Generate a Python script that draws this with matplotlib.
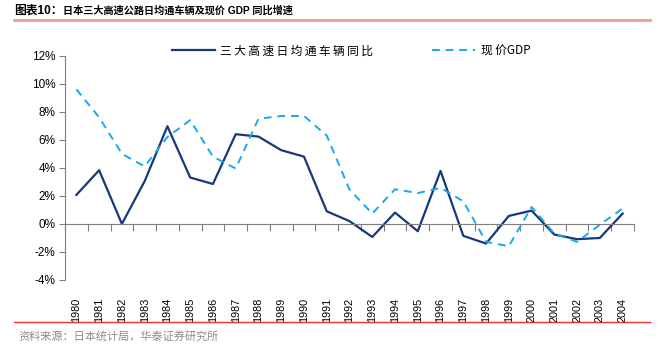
import matplotlib
matplotlib.use('Agg')
import matplotlib.pyplot as plt
import matplotlib.transforms as mtrans
from matplotlib.lines import Line2D
from matplotlib.font_manager import FontProperties

plt.rcParams['font.family'] = ['Liberation Sans', 'Noto Sans CJK SC', 'DejaVu Sans']

years = [str(y) for y in range(1980, 2005)]
traffic = [2.07, 3.83, 0.0, 3.05, 6.97, 3.31, 2.85, 6.40, 6.23, 5.26, 4.80,
           0.90, 0.20, -0.93, 0.81, -0.52, 3.78, -0.85, -1.40, 0.57, 0.95,
           -0.76, -1.09, -1.00, 0.74]
gdp = [9.60, 7.60, 5.00, 4.10, 6.20, 7.40, 4.80, 3.95, 7.50, 7.70, 7.70,
       6.30, 2.45, 0.74, 2.47, 2.20, 2.57, 1.62, -1.28, -1.59, 1.21,
       -0.69, -1.28, -0.05, 1.10]
yticks = [-4, -2, 0, 2, 4, 6, 8, 10, 12]
names = ['三大高速日均通车辆同比', '现价GDP']

navy = '#17397a'
cyan = '#16aae9'
gray = '#7f7f7f'

fig = plt.figure(figsize=(6.61, 3.45), dpi=100)
ax = fig.add_axes([65 / 661, 1 - 280 / 345, (634 - 65) / 661, (280 - 55.7) / 345])

x = list(range(len(years)))
ax.plot(x, traffic, color=navy, lw=1.6)
ax.plot(x, gdp, color=cyan, lw=1.4, ls=(0, (4, 3)))

ax.set_xlim(-0.5, len(years) - 0.5)
ax.set_ylim(-4, 12)
ax.set_yticks(yticks)
ax.set_yticklabels([f'{v}%' for v in yticks], fontsize=8.5)

for s in ['top', 'right']:
    ax.spines[s].set_visible(False)
ax.spines['left'].set_color(gray)
ax.spines['bottom'].set_color(gray)
ax.spines['bottom'].set_position(('data', 0))
ax.tick_params(axis='y', colors='black', length=4, color=gray, pad=3)
ax.set_xticks([i - 0.5 for i in range(len(years) + 1)])
ax.set_xticklabels([])
ax.tick_params(axis='x', length=5, color=gray, direction='out')

tr = mtrans.blended_transform_factory(ax.transData, ax.transAxes)
for i, yr in enumerate(years):
    ax.text(i, -0.08, yr, transform=tr, rotation=90, ha='center', va='top', fontsize=7.8)

# 图例文字字距较宽，用细空格拉开
spaced = ['\u2009'.join(names[0]), '\u2009'.join('现价') + 'GDP']
handles = [Line2D([], [], color=navy, lw=1.6), Line2D([], [], color=cyan, lw=1.4, ls=(0, (4, 3)))]
lp = FontProperties(family=['Noto Sans CJK SC', 'DejaVu Sans'], size=8.5)
fig.legend(handles, spaced, loc='center left', bbox_to_anchor=(172 / 661, 1 - 51 / 345),
           ncol=2, frameon=False, prop=lp, borderpad=0, borderaxespad=0,
           handlelength=3.6, columnspacing=5.0, handletextpad=0.5)

fig.text(14 / 661, 1 - 11 / 345, '图表10：', fontsize=8.5, fontweight='bold', va='center',
         family=['Liberation Sans', 'Noto Sans CJK SC'])
fig.text(63 / 661, 1 - 11 / 345, '日本三大高速公路日均通车辆及现价 GDP 同比增速', fontsize=7.3,
         fontweight='bold', va='center', family=['Liberation Sans', 'Noto Sans CJK SC'])
fig.add_artist(Line2D([14 / 661, 650 / 661], [1 - 20 / 345, 1 - 20 / 345], color='#f29a94', lw=2))
fig.add_artist(Line2D([14 / 661, 650 / 661], [1 - 322 / 345, 1 - 322 / 345], color='#e8342a', lw=1))
fig.text(18 / 661, 1 - 336 / 345, '资料来源：日本统计局，华泰证券研究所', fontsize=8, color='#8c8c8c',
         va='center', family=['Noto Sans CJK SC', 'DejaVu Sans'])

fig.savefig('out.png', dpi=100)
